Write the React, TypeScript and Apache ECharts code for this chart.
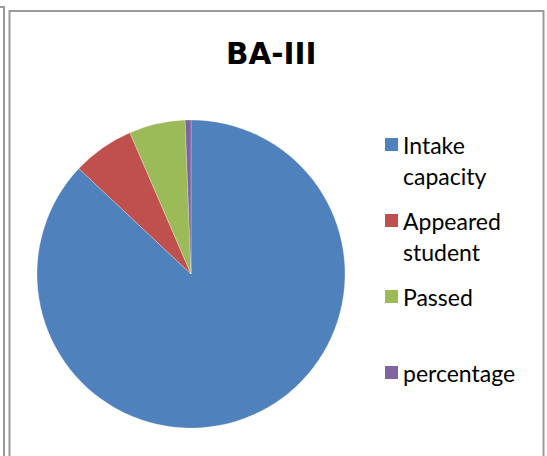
import React, { useEffect, useRef } from "react";
import * as echarts from "echarts";

const categories = ["Intake capacity", "Appeared student", "Passed", "percentage"];
const values = [12920, 965, 874, 90.57];
const colors = ["#4F81BD", "#C0504D", "#9BBB59", "#8064A2"];
const titleText = "BA-III";

export default function App() {
  const ref = useRef<HTMLDivElement>(null);
  useEffect(() => {
    if (!ref.current) return;
    const chart = echarts.init(ref.current, null, { renderer: "svg" });
    const legendTops = [129, 205, 281, 357];
    const legendGraphics: any[] = [];
    categories.forEach((name, i) => {
      const top = legendTops[i];
      legendGraphics.push({
        type: "rect",
        shape: { x: 385, y: top + 15.5 - 6.5, width: 13, height: 13 },
        style: { fill: colors[i] },
        silent: true,
      });
      legendGraphics.push({
        type: "text",
        x: 403,
        y: top,
        style: {
          text: name,
          fontFamily: "Lato",
          fontSize: 23,
          lineHeight: 31,
          width: 128,
          overflow: "break",
          fill: "#000",
          verticalAlign: "top",
          align: "left",
        },
        silent: true,
      });
    });
    chart.setOption({
      animation: false,
      backgroundColor: "#fff",
      title: {
        text: titleText,
        left: 226,
        top: 39,
        padding: 0,
        textStyle: {
          fontFamily: "DejaVu Sans",
          fontWeight: "bold",
          fontSize: 29.5,
          color: "#000",
        },
      },
      color: colors,
      graphic: [
        {
          type: "rect",
          shape: { x: 9.5, y: 11, width: 534, height: 520 },
          style: { fill: "none", stroke: "#9a9a9a", lineWidth: 2 },
          silent: true,
          z: 10,
        },
        {
          type: "polyline",
          shape: { points: [[0, 7], [4, 7], [4, 470]] },
          style: { fill: "none", stroke: "#9a9a9a", lineWidth: 2 },
          silent: true,
          z: 10,
        },
        ...legendGraphics,
      ],
      series: [
        {
          type: "pie",
          center: [191, 274],
          radius: 154,
          startAngle: 90,
          clockwise: true,
          label: { show: false },
          labelLine: { show: false },
          emphasis: { disabled: true },
          itemStyle: { borderColor: "rgba(255,255,255,0.5)", borderWidth: 0.5 },
          data: categories.map((name, i) => ({ name, value: values[i] })),
        },
      ],
    });
    return () => chart.dispose();
  }, []);
  return (
    <div
      ref={ref}
      style={{ position: "absolute", left: 0, top: 0, width: 547, height: 456 }}
    />
  );
}
